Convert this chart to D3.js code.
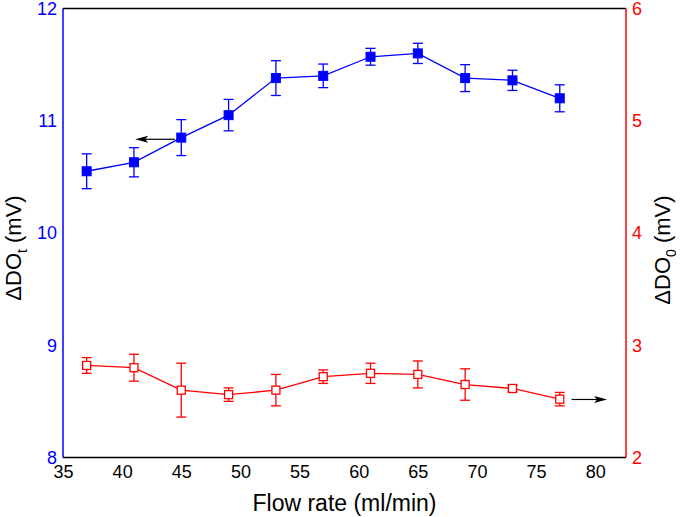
<!DOCTYPE html>
<html><head><meta charset="utf-8">
<script src="https://cdn.jsdelivr.net/npm/d3@7"></script>
<style>body{margin:0;background:#fff}svg{display:block;font-family:"Liberation Sans",Arial,sans-serif}</style>
</head><body><svg id="c" width="685" height="517"></svg>
<script>
const flowRate = [37,41,45,49,53,57,61,65,69,73,77];
const doT      = [10.55,10.63,10.85,11.05,11.38,11.40,11.57,11.60,11.38,11.36,11.20];
const doTErr   = [0.155,0.13,0.16,0.14,0.155,0.105,0.075,0.09,0.12,0.09,0.12];
const do0      = [2.82,2.80,2.60,2.56,2.60,2.72,2.75,2.74,2.65,2.615,2.52];
const do0Err   = [0.07,0.12,0.24,0.06,0.14,0.06,0.09,0.12,0.14,0.03,0.06];
const xTicks = [35,40,45,50,55,60,65,70,75,80];
const leftTicks = [8,9,10,11,12];
const rightTicks = [2,3,4,5,6];
// arrow annotations [x1, x2, y] in data units
const arrowLeft = [44.45, 41.1, 10.835];
const arrowRight = [78.0, 81.0, 2.517];

const svg = d3.select("#c");
const m = {l:63, r:626, t:8.5, b:457.5};
const x = d3.scaleLinear().domain([35,82.6]).range([m.l,m.r]);
const yL = d3.scaleLinear().domain([8,12]).range([m.b,m.t]);
const yR = d3.scaleLinear().domain([2,6]).range([m.b,m.t]);
const BLUE="#0000ff", RED="#ff0000";

// frame
svg.append("line").attr("x1",m.l).attr("x2",m.r).attr("y1",m.t).attr("y2",m.t).attr("stroke","#000").attr("stroke-width",1.5);
svg.append("line").attr("x1",m.l).attr("x2",m.r).attr("y1",m.b).attr("y2",m.b).attr("stroke","#000").attr("stroke-width",1.5);
svg.append("line").attr("x1",m.l).attr("x2",m.l).attr("y1",m.t).attr("y2",m.b).attr("stroke",BLUE).attr("stroke-width",1.5);
svg.append("line").attr("x1",m.r).attr("x2",m.r).attr("y1",m.t).attr("y2",m.b).attr("stroke",RED).attr("stroke-width",1.5);

// x axis
const xa = svg.append("g").attr("transform",`translate(0,${m.b})`)
  .call(d3.axisBottom(x).tickValues(xTicks).tickSize(0).tickPadding(8));
xa.select(".domain").remove();
xa.selectAll("text").attr("font-size",18).attr("fill","#000").attr("font-family","Liberation Sans, Arial, sans-serif");

const la = svg.append("g").attr("transform",`translate(${m.l},0)`)
  .call(d3.axisLeft(yL).tickValues(leftTicks).tickSize(0).tickPadding(6).tickFormat(d3.format("d")));
la.select(".domain").remove();
la.selectAll("text").attr("font-size",18).attr("fill",BLUE).attr("font-family","Liberation Sans, Arial, sans-serif");

const ra = svg.append("g").attr("transform",`translate(${m.r},0)`)
  .call(d3.axisRight(yR).tickValues(rightTicks).tickSize(0).tickPadding(6).tickFormat(d3.format("d")));
ra.select(".domain").remove();
ra.selectAll("text").attr("font-size",18).attr("fill",RED).attr("font-family","Liberation Sans, Arial, sans-serif");

// titles
svg.append("text").attr("x",(m.l+m.r)/2).attr("y",511).attr("text-anchor","middle")
  .attr("font-size",23).text("Flow rate (ml/min)");
function yTitle(cx, cy, sub){
  const t = svg.append("text").attr("transform",`translate(${cx},${cy}) rotate(-90)`)
    .attr("text-anchor","middle").attr("font-size",22);
  t.append("tspan").text("\u0394DO");
  t.append("tspan").attr("font-size",14).attr("dy",6).text(sub);
  t.append("tspan").attr("dy",-6).text(" (mV)");
}
yTitle(21, 248, "t");
yTitle(670, 250, "0");

// data
const idx = d3.range(flowRate.length);
function series(vals, errs, ys, color, filled, sz){
  const g = svg.append("g");
  g.append("path").datum(idx).attr("fill","none").attr("stroke",color).attr("stroke-width",1.3)
    .attr("d", d3.line().x(i=>x(flowRate[i])).y(i=>ys(vals[i])));
  const cw = 5;
  idx.forEach(i=>{
    const cx = x(flowRate[i]), y1 = ys(vals[i]+errs[i]), y2 = ys(vals[i]-errs[i]);
    g.append("line").attr("x1",cx).attr("x2",cx).attr("y1",y1).attr("y2",y2).attr("stroke",color).attr("stroke-width",1.3);
    g.append("line").attr("x1",cx-cw).attr("x2",cx+cw).attr("y1",y1).attr("y2",y1).attr("stroke",color).attr("stroke-width",1.3);
    g.append("line").attr("x1",cx-cw).attr("x2",cx+cw).attr("y1",y2).attr("y2",y2).attr("stroke",color).attr("stroke-width",1.3);
  });
  g.selectAll("rect").data(idx).join("rect")
    .attr("x",i=>x(flowRate[i])-sz/2).attr("y",i=>ys(vals[i])-sz/2).attr("width",sz).attr("height",sz)
    .attr("fill",filled?color:"#fff").attr("stroke",color).attr("stroke-width",filled?1:1.3);
}
series(do0, do0Err, yR, RED, false, 8);
series(doT, doTErr, yL, BLUE, true, 9);

// arrows
function arrow(a, ys){
  const x1=x(a[0]), x2=x(a[1]), y=ys(a[2]);
  const dir = Math.sign(x2-x1);
  svg.append("line").attr("x1",x1).attr("x2",x2-dir*9).attr("y1",y).attr("y2",y).attr("stroke","#000").attr("stroke-width",1.2);
  svg.append("path").attr("d",`M${x2},${y} L${x2-dir*13},${y-3.5} L${x2-dir*10},${y} L${x2-dir*13},${y+3.5} Z`).attr("fill","#000");
}
arrow(arrowLeft, yL);
arrow(arrowRight, yR);
</script></body></html>
